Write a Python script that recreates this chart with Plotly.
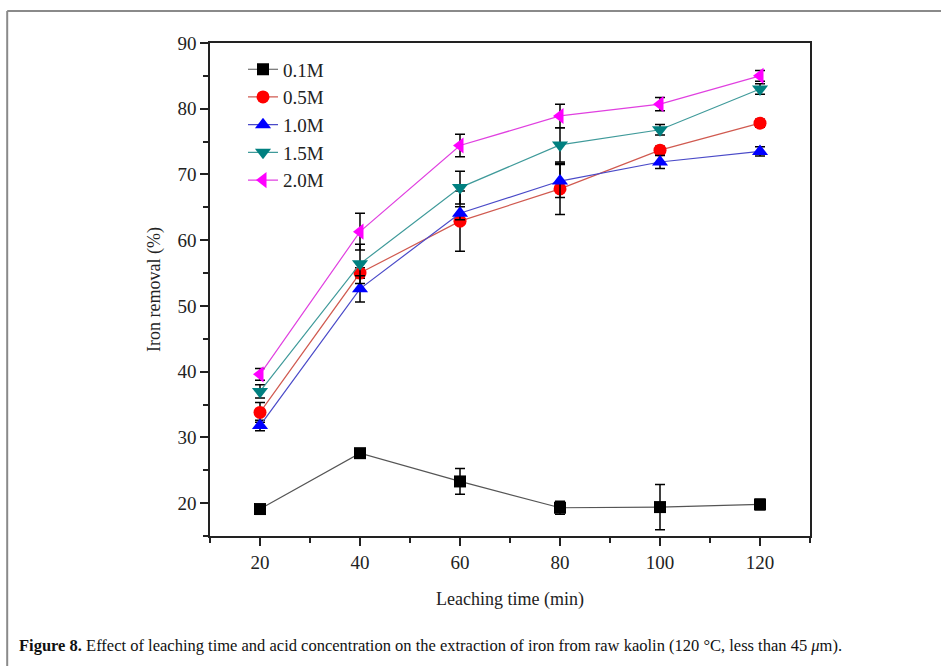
import plotly.graph_objects as go

time_min = [20, 40, 60, 80, 100, 120]

conc_labels = ["0.1M", "0.5M", "1.0M", "1.5M", "2.0M"]

removal_01 = [19.1, 27.6, 23.3, 19.3, 19.4, 19.8]
err_01 = [0.6, 0.5, 1.95, 1.0, 3.45, 0.8]

removal_05 = [33.8, 55.0, 62.9, 67.8, 73.7, 77.8]
err_05 = [1.5, 0.8, 4.6, 3.9, 0.6, 0.6]

removal_10 = [31.8, 52.6, 64.1, 69.0, 71.9, 73.5]
err_10 = [0.8, 2.0, 1.0, 2.5, 1.0, 0.7]

removal_15 = [37.0, 56.4, 68.0, 74.5, 76.8, 83.0]
err_15 = [1.0, 3.0, 2.5, 2.6, 0.8, 0.8]

removal_20 = [39.6, 61.3, 74.4, 78.9, 80.7, 85.0]
err_20 = [0.9, 2.8, 1.7, 1.8, 1.0, 0.8]

series = [
    (conc_labels[0], removal_01, err_01, "square", "#000000", "#555555", 12),
    (conc_labels[1], removal_05, err_05, "circle", "#ff0000", "#d05a50", 13),
    (conc_labels[2], removal_10, err_10, "triangle-up", "#0000ff", "#4a4ac8", 14),
    (conc_labels[3], removal_15, err_15, "triangle-down", "#008080", "#3f9a9a", 14),
    (conc_labels[4], removal_20, err_20, "triangle-left", "#ff00ff", "#e040e0", 14),
]

SERIF = "Liberation Serif, Times New Roman, serif"

fig = go.Figure()
for name, vals, errs, sym, mcol, lcol, msize in series:
    fig.add_trace(go.Scatter(
        x=time_min, y=vals, name=name, mode="lines+markers",
        line=dict(color=lcol, width=1.2),
        marker=dict(symbol=sym, size=msize, color=mcol, line=dict(width=0)),
        error_y=dict(type="data", array=errs, visible=True,
                     color="#000000", thickness=1.5, width=5),
    ))

fig.update_layout(
    width=941, height=666,
    margin=dict(l=210, r=131, t=43, b=130),
    paper_bgcolor="white", plot_bgcolor="white",
    font=dict(family=SERIF, size=18, color="#222222"),
    showlegend=True,
    legend=dict(x=0.055, y=0.985, xanchor="left", yanchor="top",
                bgcolor="rgba(0,0,0,0)", font=dict(family=SERIF, size=19),
                tracegroupgap=0),
    xaxis=dict(range=[10, 130], tickvals=time_min, showgrid=False, zeroline=False,
               showline=True, linecolor="#222222", linewidth=1.5, mirror=True,
               ticks="outside", ticklen=8, tickwidth=1.5, tickcolor="#222222",
               minor=dict(tickvals=[10, 30, 50, 70, 90, 110, 130], ticks="outside",
                          ticklen=5, tickwidth=1.5, tickcolor="#222222"),
               tickfont=dict(family=SERIF, size=19),
               title=dict(text="Leaching time (min)", standoff=21,
                          font=dict(family=SERIF, size=18))),
    yaxis=dict(range=[15, 90], tickvals=[20, 30, 40, 50, 60, 70, 80, 90],
               showgrid=False, zeroline=False,
               showline=True, linecolor="#222222", linewidth=1.5, mirror=True,
               ticks="outside", ticklen=8, tickwidth=1.5, tickcolor="#222222",
               minor=dict(tickvals=[15, 25, 35, 45, 55, 65, 75, 85], ticks="outside",
                          ticklen=5, tickwidth=1.5, tickcolor="#222222"),
               tickfont=dict(family=SERIF, size=19),
               title=dict(text="Iron removal (%)", standoff=12,
                          font=dict(family=SERIF, size=18))),
)

# outer figure frame (grey), top and left edges
fig.add_shape(type="line", xref="paper", yref="paper",
              x0=-0.338, x1=1.3, y0=1.0649, y1=1.0649,
              line=dict(color="#8a8a8a", width=2))
fig.add_shape(type="line", xref="paper", yref="paper",
              x0=-0.338, x1=-0.338, y0=-0.27, y1=1.0649,
              line=dict(color="#8a8a8a", width=2))

fig.add_annotation(
    xref="paper", yref="paper", x=-0.322, y=-0.222, xanchor="left", yanchor="middle",
    showarrow=False,
    text="<b>Figure 8.</b> Effect of leaching time and acid concentration on the extraction "
         "of iron from raw kaolin (120 °C, less than 45 <i>μ</i>m).",
    font=dict(family=SERIF, size=16.5, color="#111111"),
)

fig.write_html("out.html")
